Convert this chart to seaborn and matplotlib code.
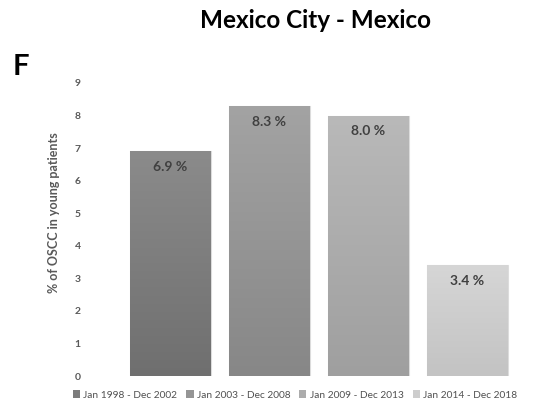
import numpy as np
import pandas as pd
import matplotlib
matplotlib.use("Agg")
import matplotlib.pyplot as plt
from matplotlib.patches import Patch
import seaborn as sns

# Share of oral squamous cell carcinoma in young patients, per period
periods = ["Jan 1998 - Dec 2002", "Jan 2003 - Dec 2008",
           "Jan 2009 - Dec 2013", "Jan 2014 - Dec 2018"]
values = [6.9, 8.3, 8.0, 3.4]
value_labels = [f"{v:.1f} %" for v in values]
y_ticks = list(range(0, 10))

# top / bottom shades for each bar's vertical gradient
tops = ["#8b8b8b", "#a3a3a3", "#b9b9b9", "#d6d6d6"]
bottoms = ["#6f6f6f", "#878787", "#9f9f9f", "#c3c3c3"]
mids = ["#7c7c7c", "#959595", "#acacac", "#cdcdcd"]

sns.set_theme(style="white")
plt.rcParams["font.family"] = ["Lato", "DejaVu Sans"]

df = pd.DataFrame({"period": periods, "pct": values})

fig = plt.figure(figsize=(5.35, 4.07), dpi=100)
ax = fig.add_axes([121 / 535, 31 / 407, (517 - 121) / 535, (376 - 83) / 407])

sns.barplot(data=df, x="period", y="pct", hue="period", palette=mids,
            width=0.81, legend=False, ax=ax, saturation=1)

ax.set_ylim(0, 9)
ax.set_xlim(-0.5, 3.5)

# vertical gradient fill clipped to each bar
for patch, top, bot in zip(ax.patches, tops, bottoms):
    x0, y0 = patch.get_x(), patch.get_y()
    w, h = patch.get_width(), patch.get_height()
    c_top = np.array(matplotlib.colors.to_rgb(top))
    c_bot = np.array(matplotlib.colors.to_rgb(bot))
    t = np.linspace(0, 1, 256)[:, None]
    grad = (c_top[None, :] * (1 - t) + c_bot[None, :] * t)[:, None, :]
    im = ax.imshow(grad, extent=[x0, x0 + w, y0, y0 + h], origin="upper",
                   aspect="auto", zorder=patch.get_zorder() + 0.1)
    im.set_clip_path(patch)
    patch.set_edgecolor("#dcdcdc")
    patch.set_linewidth(0.8)

ax.set_xlim(-0.5, 3.5)
ax.set_ylim(0, 9)

# value labels inside the top of each bar
for i, (v, lab) in enumerate(zip(values, value_labels)):
    ax.text(i, v - 0.3, lab, ha="center", va="top", fontsize=10,
            fontweight="bold", color="#404040", zorder=5)

ax.set_yticks(y_ticks)
ax.set_yticklabels([str(t) for t in y_ticks], fontsize=7.5, fontweight="bold",
                   color="#595959")
ax.tick_params(axis="y", length=0, pad=29)
ax.set_xticks([])
ax.set_xlabel("")
ax.set_ylabel("")
for s in ax.spines.values():
    s.set_visible(False)

fig.text(54 / 535, 1 - 213 / 407, "% of OSCC in young patients", rotation=90,
         ha="center", va="center", fontsize=9, fontweight="bold",
         color="#595959")

fig.text(316 / 535, 1 - 20 / 407, "Mexico City - Mexico", ha="center",
         va="center", fontsize=17.5, fontweight="bold", color="black")
fig.text(13 / 535, 1 - 67 / 407, "F", ha="left", va="center", fontsize=21,
         fontweight="bold", color="black")

handles = [Patch(facecolor=c, edgecolor="none") for c in mids]
fig.legend(handles, periods, loc="center", bbox_to_anchor=(295 / 535, 1 - 395 / 407),
           ncol=4, frameon=False, fontsize=7.3, handlelength=0.7,
           handleheight=0.7, handletextpad=0.3, columnspacing=0.9,
           labelcolor="#505050")

fig.savefig("out.png", dpi=100, facecolor="white")
